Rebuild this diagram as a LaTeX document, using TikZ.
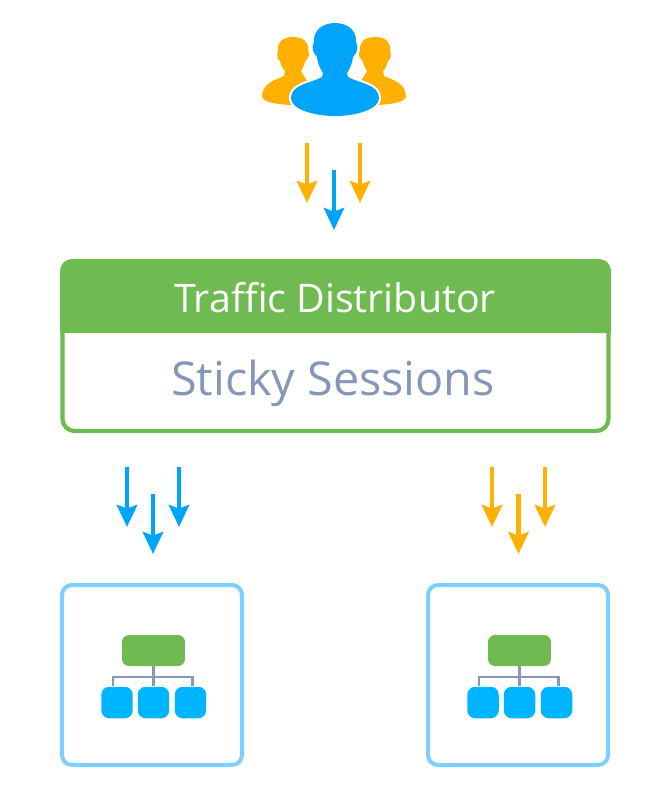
\documentclass[tikz,border=0pt]{standalone}
\usepackage{fontspec}
\setmainfont{Open Sans}
\usetikzlibrary{arrows.meta}
\definecolor{tdgreen}{HTML}{70BA52}
\definecolor{tdblue}{HTML}{00A5FA}
\definecolor{tdorange}{HTML}{FFB000}
\definecolor{tdslate}{HTML}{8497B8}
\definecolor{tdframe}{HTML}{7CCFFF}
\definecolor{tdleaf}{HTML}{00B5FF}
\tikzset{
  flowarrow/.style={line width=2.8pt,-{Stealth[length=12.5pt,width=11.5pt,inset=2pt]}},
  serverbox/.style={draw=tdframe,line width=2.3pt,rounded corners=0.2cm,minimum width=3.6cm,minimum height=3.6cm},
  topnode/.style={fill=tdgreen,rounded corners=0.14cm,inner sep=0pt,minimum width=1.26cm,minimum height=0.62cm},
  leafnode/.style={fill=tdleaf,rounded corners=0.16cm,inner sep=0pt,minimum width=0.63cm,minimum height=0.63cm},
  treeline/.style={draw=tdslate,line width=1.4pt}
}
\begin{document}
\begin{tikzpicture}[x=0.02cm,y=-0.02cm]
  \useasboundingbox (0,0) rectangle (660,795);

  % Users
  \foreach \sc/\sh in {1/0,-1/668} {
    \begin{scope}[shift={(\sh,0)},xscale=\sc]
      \fill[tdorange] (293,37) .. controls (283,37) and (277,42) .. (278,50)
        .. controls (276,56) and (278,60) .. (280,61) .. controls (281,66) and (283,69) .. (285,71)
        -- (284,76) .. controls (276,80) and (263,82) .. (262,96)
        .. controls (262,102) and (275,104) .. (290,105) -- (312,88) -- (304,76) -- (301,71)
        .. controls (304,66) and (305,62) .. (306,60) .. controls (309,58) and (310,54) .. (308,50)
        .. controls (309,42) and (303,37) .. (293,37) -- cycle;
    \end{scope}
  }
  \path[preaction={draw=white,line width=2.4pt},fill=tdblue] (335,23) .. controls (322,23) and (313,31) .. (314,42)
    .. controls (311,47) and (313,53) .. (317,57) .. controls (318,65) and (321,70) .. (323,73)
    -- (322,77) .. controls (312,83) and (291,84) .. (291,98)
    .. controls (291,109) and (313,116) .. (335,116)
    .. controls (357,116) and (379,109) .. (379,98)
    .. controls (379,84) and (358,83) .. (348,77) -- (347,73)
    .. controls (349,70) and (352,65) .. (353,57) .. controls (357,53) and (359,47) .. (356,42)
    .. controls (357,31) and (348,23) .. (335,23) -- cycle;

  % Arrows
  \foreach \nm/\ax/\ay/\col in {ua/307/143/tdorange,ub/360/143/tdorange,uc/334/170/tdblue,
    la/127/467/tdblue,lb/179/467/tdblue,lc/153/494/tdblue,
    ra/492/467/tdorange,rb/545/467/tdorange,rc/518.5/494/tdorange} {
    \coordinate (\nm start) at (\ax,\ay);
    \coordinate (\nm end) at (\ax,\ay+60);
    \draw[flowarrow,\col] (\nm start) -- (\nm end);
  }

  % Distributor
  \node[draw=tdgreen,line width=2.4pt,rounded corners=0.24cm,minimum width=10.92cm,minimum height=3.4cm,inner sep=0pt] (dist) at (335.5,346) {};
  \fill[tdgreen] (60,333) -- (60,271) arc[start angle=180,end angle=90,radius=0.24cm] -- (599,259) arc[start angle=90,end angle=0,radius=0.24cm] -- (611,333) -- cycle;
  \node[text=white,font=\fontsize{22.4}{26}\selectfont] (title) at (335,298) {Traffic Distributor};
  \node[text=tdslate,font=\fontsize{26.6}{32}\selectfont] (mode) at (333,383) {Sticky Sessions};

  % Server groups
  \foreach \nm/\ox in {l/0,r/366} {
    \begin{scope}[shift={(\ox,0)}]
      \node[serverbox] (\nm box) at (152,675) {};
      \node[topnode] (\nm top) at (153.5,650.5) {};
      \node[leafnode] (\nm lefta) at (117,702.5) {};
      \node[leafnode] (\nm mid) at (153.5,702.5) {};
      \node[leafnode] (\nm righta) at (190.5,702.5) {};
      \coordinate (\nm bus) at (153.5,677);
      \draw[treeline] (\nm top.south) -- (\nm mid.north);
      \draw[treeline] ([xshift=-0.08cm]\nm lefta.north) |- (\nm bus) -| ([xshift=0.04cm]\nm righta.north);
    \end{scope}
  }
\end{tikzpicture}
\end{document}
